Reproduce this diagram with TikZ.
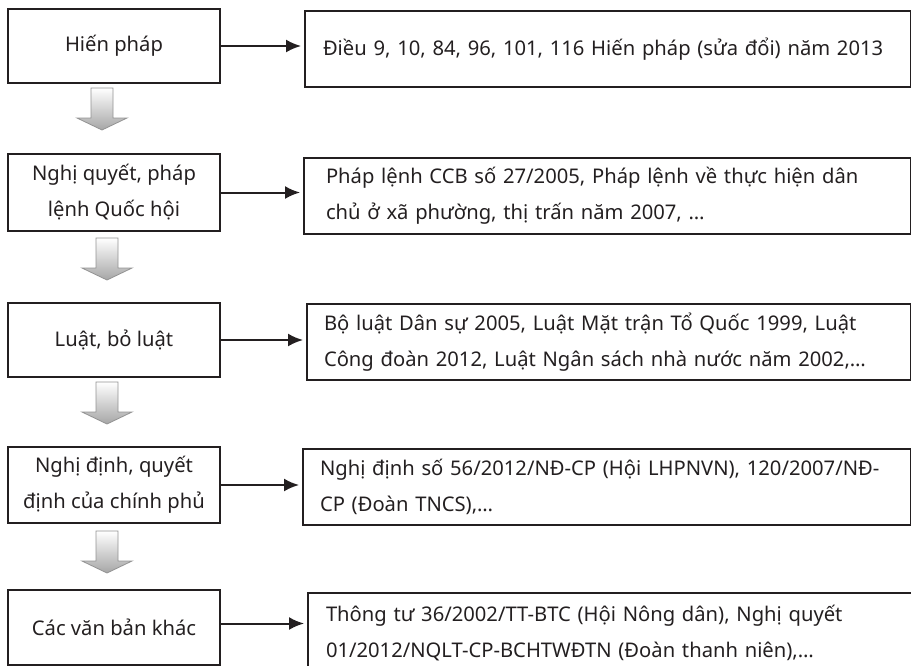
\documentclass[tikz,border=0pt]{standalone}
\usepackage{fontspec}
\setmainfont{Noto Sans}
\usetikzlibrary{arrows.meta,calc}
\definecolor{ink}{HTML}{231F20}
\begin{document}
\begin{tikzpicture}[x=1pt,y=-1pt,
  txt/.style={text=ink,font=\fontsize{20.2}{36}\selectfont},
  lbox/.style={txt,draw=ink,line width=2pt,minimum width=212pt,minimum height=#1,inner sep=2pt,align=center,anchor=north west},
  rbox/.style={txt,draw=ink,line width=2pt,anchor=north west,align=left},
  conn/.style={draw=ink,line width=2pt,-{Latex[length=15pt,width=13pt]},shorten >=3pt},
  darr/.pic={\shadedraw[draw=gray!85,top color=white,bottom color=gray!70,line width=0.8pt]
     (-11,0) -- (11,0) -- (11,30) -- (25,30) -- (0,42) -- (-25,30) -- (-11,30) -- cycle;}
]
\useasboundingbox (0,0) rectangle (911,665);
% left column
\node[lbox=74pt] (L1) at (7,8) {Hiến pháp};
\node[lbox=77pt] (L2) at (7,153) {Nghị quyết, pháp\\lệnh Quốc hội};
\node[lbox=74pt] (L3) at (7,302) {Luật, bỏ luật};
\node[lbox=76pt] (L4) at (7,446) {Nghị định, quyết\\định của chính phủ};
\node[lbox=75pt] (L5) at (7,589) {Các văn bản khác};
% right column
\node[rbox,inner xsep=18pt,text width=570pt,minimum height=76pt] (R1) at (304,10)
  {\mbox{Điều 9, 10, 84, 96, 101, 116 Hiến pháp (sửa đổi) năm 2013}};
\node[rbox,inner xsep=22pt,text width=563pt,minimum height=76pt] (R2) at (303,157)
  {\mbox{Pháp lệnh CCB số 27/2005, Pháp lệnh về thực hiện dân}\\\mbox{chủ ở xã phường, thị trấn năm 2007, …}};
\node[rbox,inner xsep=17pt,text width=570pt,minimum height=76pt] (R3) at (306,303)
  {\mbox{Bộ luật Dân sự 2005, Luật Mặt trận Tổ Quốc 1999, Luật}\\\mbox{Công đoàn 2012, Luật Ngân sách nhà nước năm 2002,…}};
\node[rbox,inner xsep=17pt,text width=574pt,minimum height=76pt] (R4) at (302,448)
  {\mbox{Nghị định số 56/2012/NĐ-CP (Hội LHPNVN), 120/2007/NĐ-}\\\mbox{CP (Đoàn TNCS),…}};
\node[rbox,inner xsep=18pt,text width=600pt,minimum height=80pt] (R5) at (307,592)
  {\mbox{Thông tư 36/2002/TT-BTC (Hội Nông dân), Nghị quyết}\\\mbox{01/2012/NQLT-CP-BCHTWĐTN (Đoàn thanh niên),…}};
% connectors
\draw[conn] (L1.east) -- (L1.east -| R1.west);
\draw[conn] (L2.east) -- (L2.east -| R2.west);
\draw[conn] (L3.east) -- (L3.east -| R3.west);
\draw[conn] (L4.east) -- (L4.east -| R4.west);
\draw[conn] ([yshift=4pt]L5.east) -- ([yshift=4pt]L5.east -| R5.west);
% down arrows
\pic at (102,88) {darr};
\pic at (107,238) {darr};
\pic at (107,382) {darr};
\pic at (107,531) {darr};
\end{tikzpicture}
\end{document}
